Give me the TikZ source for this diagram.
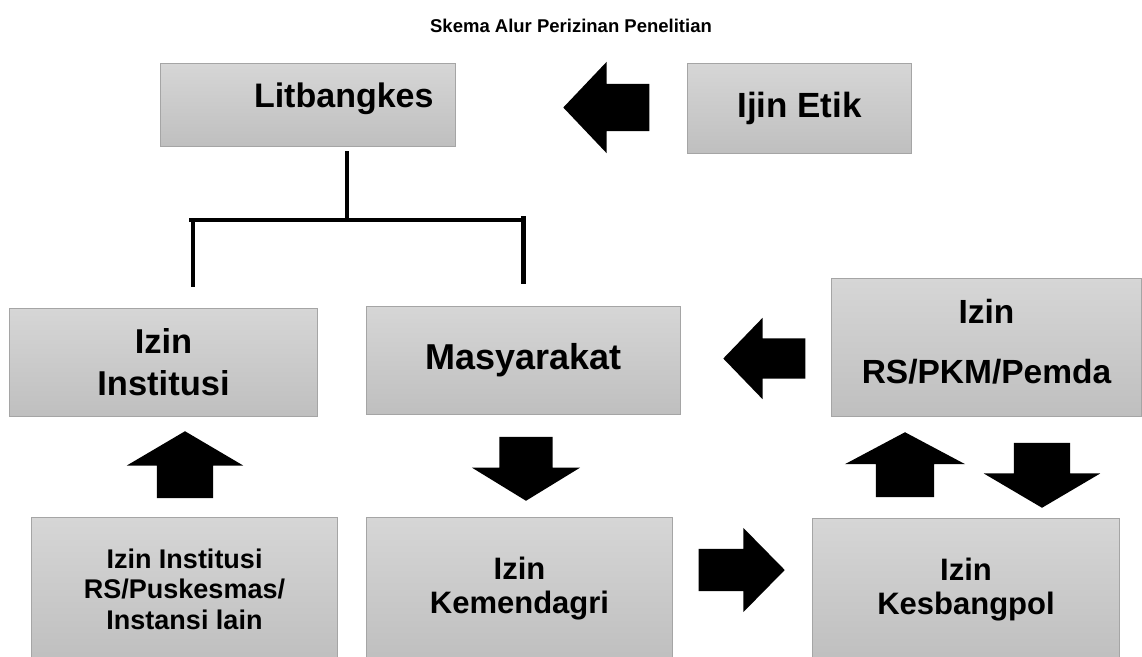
\documentclass[tikz,border=0pt]{standalone}
\usepackage{fontspec}
\setmainfont{Liberation Sans}
\usetikzlibrary{shapes.arrows}

\definecolor{boxtop}{RGB}{214,214,214}
\definecolor{boxbot}{RGB}{191,191,191}
\definecolor{boxline}{RGB}{165,165,165}
\newcommand{\boxfont}[2]{\fontsize{#1}{#2}\selectfont}

\tikzset{
    box/.style={draw=boxline, line width=1pt, top color=boxtop, bottom color=boxbot,
        anchor=north west, inner sep=0pt, align=center},
    blockarrow/.style={single arrow, fill=black, inner xsep=0pt, inner ysep=28pt, anchor=tip,
        minimum height=65pt, single arrow head extend=30pt, single arrow tip angle=119},
    flatarrow/.style={blockarrow, minimum height=86pt, inner ysep=21pt,
        single arrow head extend=21pt, single arrow tip angle=91},
    tree/.style={line width=4.5pt},
}

\begin{document}
\begin{tikzpicture}[x=1pt, y=-1pt]
\useasboundingbox (0,0) rectangle (1142,656);

\node[font=\bfseries\boxfont{18.5}{22}] (title) at (571,26) {Skema Alur Perizinan Penelitian};

% top row
\node[box, minimum width=295pt, minimum height=83pt, text width=251pt, align=right,
    text depth=19pt, font=\bfseries\boxfont{34}{40}] (lit) at (160,63) {Litbangkes};
\node[box, minimum width=224pt, minimum height=90pt,
    font=\bfseries\boxfont{35}{40}] (etik) at (687,63) {Ijin Etik};
\node[flatarrow, rotate=180, inner ysep=23.5pt, single arrow head extend=22pt,
    single arrow tip angle=93] (etikarrow) at (563,107.5) {};

% branch under Litbangkes
\coordinate (stem) at (347,151);
\coordinate (split) at (347,220);
\coordinate (barL) at (189,220);
\coordinate (barR) at (526,220);
\coordinate (legL) at (193,218);
\coordinate (footL) at (193,287);
\coordinate (legR) at (523.5,216);
\coordinate (footR) at (523.5,284);
\draw[tree] (stem) -- (split);
\draw[tree] (barL) -- (barR);
\draw[tree] (legL) -- (footL);
\draw[tree] (legR) -- (footR);

% middle row
\node[box, minimum width=308pt, minimum height=108pt,
    font=\bfseries\boxfont{34.5}{42}] (inst) at (9,308) {Izin\\Institusi};
\node[box, minimum width=314pt, minimum height=108pt,
    font=\bfseries\boxfont{36}{42}] (masy) at (366,306) {Masyarakat};
\node[box, minimum width=310pt, minimum height=138pt, text depth=12pt,
    font=\bfseries\boxfont{33.5}{60}] (pkm) at (831,278) {Izin\\RS/PKM/Pemda};
\node[flatarrow, rotate=180, minimum height=82pt, inner ysep=20pt,
    single arrow head extend=20.5pt, single arrow tip angle=92] (pkmarrow) at (723,358.5) {};

% arrows between rows
\node[blockarrow, rotate=90, minimum height=67pt] (instarrow) at (185,431) {};
\node[blockarrow, rotate=-90, minimum height=64pt, inner ysep=26.5pt,
    single arrow head extend=27.5pt, single arrow tip angle=117] (masyarrow) at (526,501) {};
\node[blockarrow, rotate=90, inner ysep=29pt, single arrow head extend=31pt,
    single arrow tip angle=124] (uparrow) at (905,432) {};
\node[blockarrow, rotate=-90] (downarrow) at (1042,508) {};

% bottom row
\node[box, minimum width=306pt, minimum height=143pt,
    font=\bfseries\boxfont{27}{30.5}] (rs) at (31,517) {Izin Institusi\\RS/Puskesmas/\\Instansi lain};
\node[box, minimum width=306pt, minimum height=143pt,
    font=\bfseries\boxfont{31}{34}] (kemen) at (366,517) {Izin\\Kemendagri};
\node[box, minimum width=307pt, minimum height=142pt,
    font=\bfseries\boxfont{31}{34}] (kesb) at (812,518) {Izin\\Kesbangpol};
\node[flatarrow] (kesbarrow) at (785,570) {};
\end{tikzpicture}
\end{document}
